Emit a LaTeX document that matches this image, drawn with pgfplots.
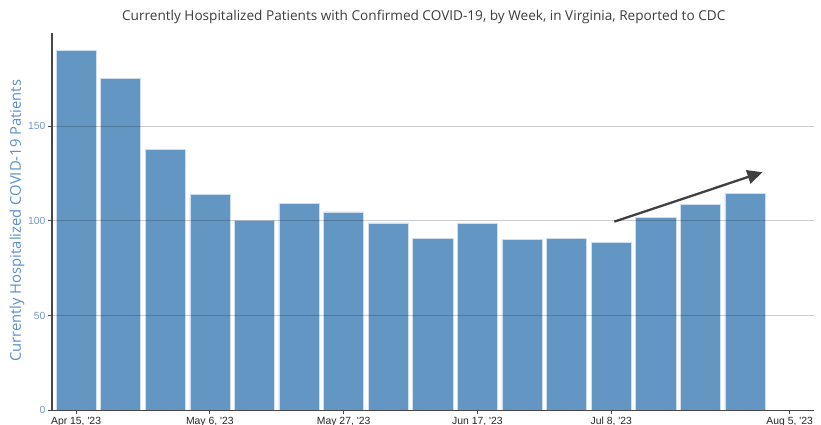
\documentclass[border=0pt]{standalone}
\usepackage{pgfplots}
\pgfplotsset{compat=1.18}
\usepackage{fontspec}
\setmainfont{Open Sans}
\newfontfamily\arial{Liberation Sans}
\usetikzlibrary{arrows.meta}
\definecolor{barblue}{RGB}{99,150,194}
\definecolor{ylab}{RGB}{92,143,200}
\definecolor{yticklab}{RGB}{118,152,198}
\definecolor{titlecol}{RGB}{60,60,60}
\begin{document}
\begin{tikzpicture}
\useasboundingbox (-52pt,-14.7pt) rectangle (769pt,410.3pt);
\begin{axis}[
  at={(0,0)}, anchor=south west,
  scale only axis, width=761.7pt, height=377.3pt,
  xmin=-0.54, xmax=16.54, ymin=0, ymax=199.2,
  axis x line*=bottom, axis y line*=left,
  axis line style={draw=black!72, line width=1.1pt},
  axis on top,
  ymajorgrids,
  grid style={draw=black, opacity=0.2, line width=0.9pt},
  ytick={0,50,100,150},
  xtick={0,3,6,9,12,16},
  xticklabels={{Apr 15, \textquotesingle23},{May 6, \textquotesingle23},{May 27, \textquotesingle23},{Jun 17, \textquotesingle23},{Jul 8, \textquotesingle23},{Aug 5, \textquotesingle23}},
  tick align=outside,
  major tick length=4pt,
  tick style={draw=black!72, line width=0.8pt},
  /pgf/number format/assume math mode=true,
  x tick label style={font=\arial\fontsize{10.4}{12}\selectfont, text=black!85, yshift=1pt},
  y tick label style={font=\arial\fontsize{10.4}{12}\selectfont, text=yticklab, xshift=1pt},
  title={Currently Hospitalized Patients with Confirmed COVID-19, by Week, in Virginia, Reported to CDC},
  title style={at={(0.488,1)}, anchor=center, yshift=10pt, font=\fontsize{13.6}{16}\selectfont, text=titlecol},
  ylabel={Currently Hospitalized COVID-19 Patients},
  ylabel style={at={(axis description cs:-0.046,0.502)}, anchor=center, font=\fontsize{14.8}{17}\selectfont, text=ylab},
]
\addplot[ybar, bar width=0.9, fill=barblue, draw=white!70!barblue, line width=0.6pt] coordinates {
  (0,190.1) (1,175.3) (2,137.8) (3,114.0) (4,100.1) (5,109.3) (6,104.7) (7,98.9)
  (8,90.6) (9,98.5) (10,90.3) (11,90.8) (12,88.7) (13,101.7) (14,108.9) (15,114.6)
};
\addplot[draw=black!75, line width=2.3pt, -{Triangle[length=15pt,width=14pt]}] coordinates {(12.07,99.6) (15.39,125.7)};
\end{axis}
\end{tikzpicture}
\end{document}
